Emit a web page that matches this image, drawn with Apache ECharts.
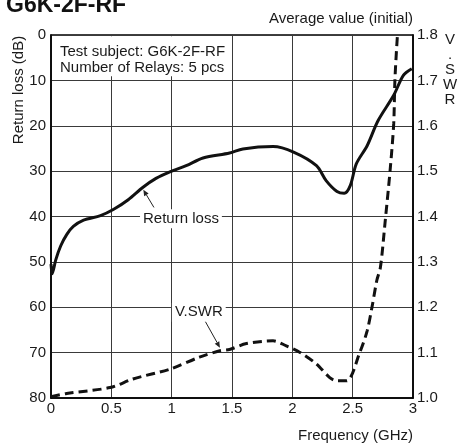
<!DOCTYPE html>
<html><head><meta charset="utf-8">
<script src="https://cdn.jsdelivr.net/npm/echarts@6/dist/echarts.min.js"></script>
<style>html,body{margin:0;padding:0;background:#fff}#c{width:459px;height:446px}</style>
</head><body><div id="c"></div>
<script>
// ---- data ----
const rlFreq = [0, 0.01, 0.04, 0.08, 0.13, 0.185, 0.27, 0.41, 0.52, 0.64, 0.76, 0.87, 0.99, 1.12, 1.26, 1.48, 1.59, 1.84, 2.01, 2.2, 2.28, 2.37, 2.43, 2.48, 2.53, 2.62, 2.71, 2.84, 2.92, 2.99];
const rlDb   = [50.5, 52.6, 49.5, 46.5, 44.0, 42.2, 40.8, 39.8, 38.4, 36.3, 33.6, 31.6, 30.1, 28.8, 27.1, 26.0, 25.1, 24.6, 25.8, 28.8, 32.1, 34.5, 34.9, 33.2, 28.4, 24.4, 18.9, 13.3, 8.9, 7.45];
const vFreq  = [0, 0.13, 0.49, 0.68, 0.99, 1.23, 1.40, 1.48, 1.62, 1.84, 1.95, 2.06, 2.20, 2.31, 2.37, 2.45, 2.56, 2.62, 2.66, 2.70, 2.73, 2.77, 2.81, 2.84, 2.85, 2.87, 2.875];
const vVal   = [1.003, 1.010, 1.023, 1.042, 1.064, 1.090, 1.104, 1.107, 1.120, 1.126, 1.115, 1.101, 1.075, 1.045, 1.038, 1.038, 1.101, 1.148, 1.200, 1.259, 1.288, 1.391, 1.501, 1.604, 1.700, 1.795, 1.800];
const xTicks = [0, 0.5, 1, 1.5, 2, 2.5, 3];
const rlTicks = [0, 10, 20, 30, 40, 50, 60, 70, 80];
const vTicks = [1.0, 1.1, 1.2, 1.3, 1.4, 1.5, 1.6, 1.7, 1.8];

const FONT = '"Liberation Sans", Arial, Helvetica, sans-serif';
const FS = 15;
const TXT = '#1a1a1a';
const chart = echarts.init(document.getElementById('c'), null, {renderer: 'canvas'});

const option = {
  backgroundColor: '#fff',
  animation: false,
  textStyle: {fontFamily: FONT},
  grid: {left: 51, right: 46, top: 35, bottom: 48, show: true, borderColor: '#000', borderWidth: 1.5, backgroundColor: 'transparent'},
  xAxis: {
    type: 'value', min: xTicks[0], max: xTicks[xTicks.length - 1], interval: 0.5,
    axisLine: {show: true, onZero: false, lineStyle: {color: '#000', width: 1.5}},
    axisTick: {show: false},
    splitLine: {show: true, lineStyle: {color: '#3a3a3a', width: 1}},
    axisLabel: {color: TXT, fontSize: FS, fontFamily: FONT, margin: 3, formatter: v => String(v)}
  },
  yAxis: [{
    type: 'value', inverse: true, min: rlTicks[0], max: rlTicks[rlTicks.length - 1], interval: 10,
    axisLine: {show: true, lineStyle: {color: '#000', width: 1.5}},
    axisTick: {show: false},
    splitLine: {show: true, lineStyle: {color: '#3a3a3a', width: 1}},
    axisLabel: {color: TXT, fontSize: FS, fontFamily: FONT, margin: 5}
  }, {
    type: 'value', min: vTicks[0], max: vTicks[vTicks.length - 1], interval: 0.1,
    position: 'right',
    axisLine: {show: true, lineStyle: {color: '#000', width: 1.5}},
    axisTick: {show: false},
    splitLine: {show: false},
    axisLabel: {color: TXT, fontSize: FS, fontFamily: FONT, margin: 4, formatter: v => v.toFixed(1)}
  }],
  series: [{
    name: 'Return loss', type: 'line', yAxisIndex: 0, smooth: 0.3, showSymbol: false, symbol: 'none',
    data: rlFreq.map((f, i) => [f, rlDb[i]]),
    lineStyle: {color: '#111', width: 3}, z: 5
  }, {
    name: 'V.SWR', type: 'line', yAxisIndex: 1, smooth: 0.3, showSymbol: false, symbol: 'none',
    data: vFreq.map((f, i) => [f, vVal[i]]),
    lineStyle: {color: '#111', width: 3, type: [9, 5]}, z: 5
  }]
};
chart.setOption(option);

function px(f, y, axis) {
  return chart.convertToPixel({xAxisIndex: 0, yAxisIndex: axis}, [f, y]);
}
function arrow(from, to) {
  const dx = to[0] - from[0], dy = to[1] - from[1];
  const L = Math.hypot(dx, dy), ux = dx / L, uy = dy / L;
  const hl = 6, hw = 2.6;
  const bx = to[0] - ux * hl, by = to[1] - uy * hl;
  return [
    {type: 'line', z: 20, shape: {x1: from[0], y1: from[1], x2: bx, y2: by}, style: {stroke: '#222', lineWidth: 1}},
    {type: 'polygon', z: 20, shape: {points: [[to[0], to[1]], [bx - uy * hw, by + ux * hw], [bx + uy * hw, by - ux * hw]]}, style: {fill: '#222'}}
  ];
}

const rlLabel = px(1.077, 40.5, 0);
const rlA0 = px(0.853, 38.0, 0), rlA1 = px(0.765, 34.1, 0);
const vLabel = px(1.225, 1.189, 1);
const vA0 = px(1.276, 1.170, 1), vA1 = px(1.40, 1.111, 1);
const boxTL = px(0.05, 0.3, 0);

const graphics = [
  {type: 'text', z: 30, left: 6, top: -6, style: {text: 'G6K-2F-RF', font: 'bold 23px ' + FONT, fill: '#111'}},
  {type: 'text', z: 30, style: {text: 'Average value (initial)', x: 413, y: 19, align: 'right', verticalAlign: 'middle', font: FS + 'px ' + FONT, fill: TXT}},
  {type: 'text', z: 30, style: {text: 'Frequency (GHz)', x: 413, y: 436, align: 'right', verticalAlign: 'middle', font: FS + 'px ' + FONT, fill: TXT}},
  {type: 'text', z: 30, x: 19, y: 90, rotation: Math.PI / 2, style: {text: 'Return loss (dB)', x: 0, y: 0, align: 'center', verticalAlign: 'middle', font: FS + 'px ' + FONT, fill: TXT}},
  {type: 'text', z: 30, style: {text: 'V\n.\nS\nW\nR', x: 450, y: 70, align: 'center', verticalAlign: 'middle', lineHeight: 15, font: FS + 'px ' + FONT, fill: TXT}},
  {type: 'rect', z: 25, shape: {x: boxTL[0], y: boxTL[1], width: 174, height: 40}, style: {fill: '#fff'}},
  {type: 'text', z: 30, style: {text: 'Test subject: G6K-2F-RF\nNumber of Relays: 5 pcs', x: 60, y: 60, align: 'left', verticalAlign: 'middle', lineHeight: 16.6, font: FS + 'px ' + FONT, fill: TXT}},
  {type: 'text', z: 30, style: {text: 'Return loss', x: rlLabel[0], y: rlLabel[1], align: 'center', verticalAlign: 'middle', font: FS + 'px ' + FONT, fill: TXT, backgroundColor: '#fff', padding: [2, 3]}},
  {type: 'text', z: 30, style: {text: 'V.SWR', x: vLabel[0], y: vLabel[1], align: 'center', verticalAlign: 'middle', font: FS + 'px ' + FONT, fill: TXT, backgroundColor: '#fff', padding: [2, 3]}}
].concat(arrow(rlA0, rlA1), arrow(vA0, vA1));

chart.setOption({graphic: {elements: graphics}});
</script></body></html>
